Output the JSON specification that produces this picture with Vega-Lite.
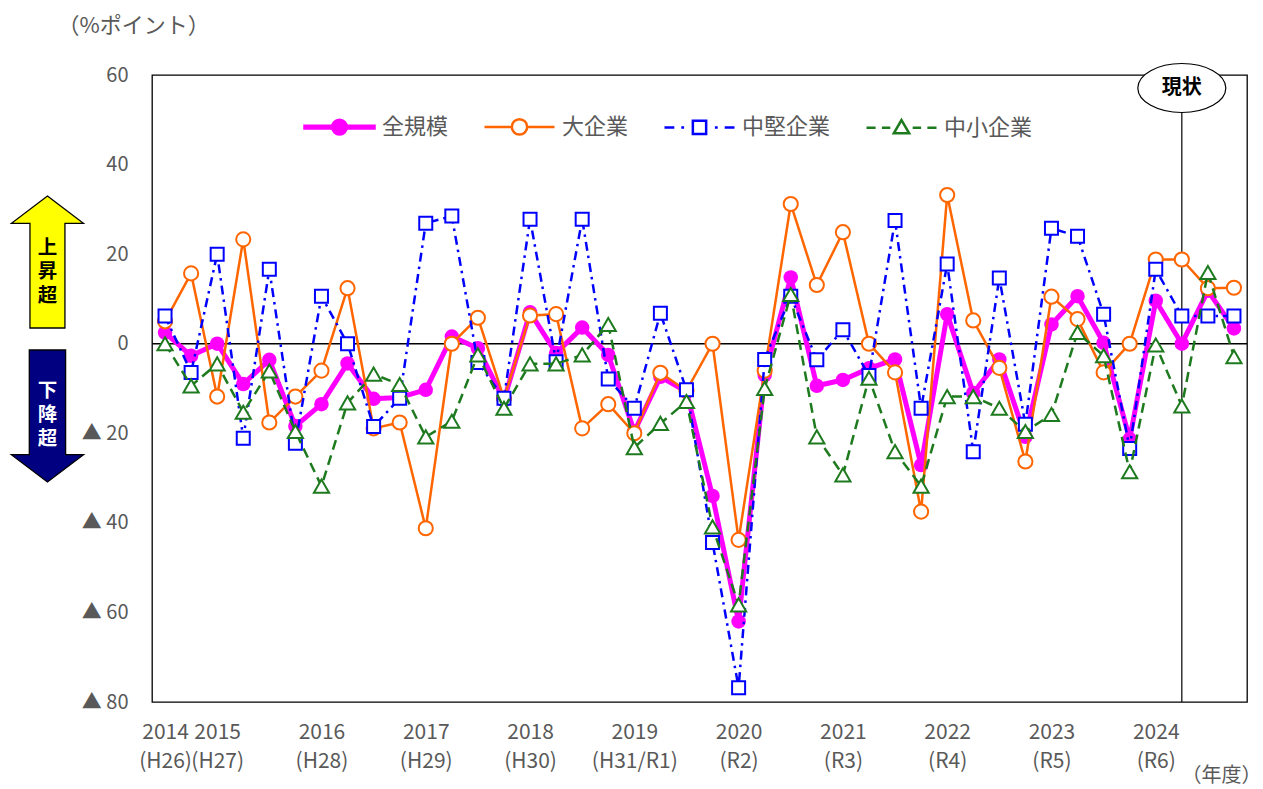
{
  "$schema": "https://vega.github.io/schema/vega-lite/v6.json",
  "width": 1095,
  "height": 627,
  "autosize": {"type": "none"},
  "padding": {"left": 152, "top": 75, "right": 16, "bottom": 87},
  "background": "white",
  "config": {
    "font": "Noto Sans CJK JP",
    "view": {"stroke": "#000000", "strokeWidth": 1.3},
    "axis": {"domain": false, "ticks": false, "tickSize": 0, "grid": false, "labelColor": "#595959", "labelFontSize": 20, "titleColor": "#595959", "titleFontWeight": "normal", "titleFontSize": 20, "labelFlush": false, "labelOverlap": false}
  },
  "data": {
    "values": [
      {"i": 0, "全規模": 2.5, "大企業": 5, "中堅企業": 6.2, "中小企業": 0},
      {"i": 1, "全規模": -2.7, "大企業": 15.7, "中堅企業": -6.4, "中小企業": -9.4},
      {"i": 2, "全規模": 0, "大企業": -11.8, "中堅企業": 20, "中小企業": -4.5},
      {"i": 3, "全規模": -9, "大企業": 23.3, "中堅企業": -21.1, "中小企業": -15.3},
      {"i": 4, "全規模": -3.6, "大企業": -17.6, "中堅企業": 16.6, "中小企業": -6.1},
      {"i": 5, "全規模": -18.4, "大企業": -11.8, "中堅企業": -22.2, "中小企業": -19.6},
      {"i": 6, "全規模": -13.5, "大企業": -6, "中堅企業": 10.6, "中小企業": -31.8},
      {"i": 7, "全規模": -4.4, "大企業": 12.4, "中堅企業": 0, "中小企業": -13.2},
      {"i": 8, "全規模": -12.3, "大企業": -18.9, "中堅企業": -18.5, "中小企業": -6.8},
      {"i": 9, "全規模": -12, "大企業": -17.6, "中堅企業": -12.2, "中小企業": -9.1},
      {"i": 10, "全規模": -10.3, "大企業": -41.2, "中堅企業": 26.9, "中小企業": -20.8},
      {"i": 11, "全規模": 1.6, "大企業": 0, "中堅企業": 28.5, "中小企業": -17.3},
      {"i": 12, "全規模": -1, "大企業": 5.8, "中堅企業": -4.2, "中小企業": -2.5},
      {"i": 13, "全規模": -12.6, "大企業": -12.2, "中堅企業": -12.2, "中小企業": -14.4},
      {"i": 14, "全規模": 7, "大企業": 6.3, "中堅企業": 27.8, "中小企業": -4.5},
      {"i": 15, "全規模": -2.1, "大企業": 6.6, "中堅企業": -4, "中小企業": -4.5},
      {"i": 16, "全規模": 3.6, "大企業": -18.9, "中堅企業": 27.8, "中小企業": -2.5},
      {"i": 17, "全規模": -2.5, "大企業": -13.5, "中堅企業": -7.9, "中小企業": 4.3},
      {"i": 18, "全規模": -19.6, "大企業": -20, "中堅企業": -14.4, "中小企業": -23.2},
      {"i": 19, "全規模": -7.4, "大企業": -6.5, "中堅企業": 6.8, "中小企業": -17.8},
      {"i": 20, "全規模": -10.7, "大企業": -10.5, "中堅企業": -10.3, "中小企業": -12.9},
      {"i": 21, "全規模": -34, "大企業": 0, "中堅企業": -44.4, "中小企業": -40.9},
      {"i": 22, "全規模": -62, "大企業": -43.8, "中堅企業": -76.8, "中小企業": -58.3},
      {"i": 23, "全規模": -7, "大企業": -6, "中堅企業": -3.5, "中小企業": -10},
      {"i": 24, "全規模": 14.8, "大企業": 31.2, "中堅企業": 10.6, "中小企業": 11},
      {"i": 25, "全規模": -9.4, "大企業": 13.1, "中堅企業": -3.6, "中小企業": -20.8},
      {"i": 26, "全規模": -8.1, "大企業": 24.9, "中堅企業": 3.1, "中小企業": -29.3},
      {"i": 27, "全規模": -5.5, "大企業": 0, "中堅企業": -7.1, "中小企業": -7.7},
      {"i": 28, "全規模": -3.5, "大企業": -6.4, "中堅企業": 27.5, "中小企業": -24.1},
      {"i": 29, "全規模": -27.1, "大企業": -37.5, "中堅企業": -14.4, "中小企業": -31.8},
      {"i": 30, "全規模": 6.6, "大企業": 33.2, "中堅企業": 17.8, "中小企業": -11.8},
      {"i": 31, "全規模": -11, "大企業": 5.2, "中堅企業": -24.1, "中小企業": -11.8},
      {"i": 32, "全規模": -3.5, "大企業": -5.4, "中堅企業": 14.7, "中小企業": -14.4},
      {"i": 33, "全規模": -20.8, "大企業": -26.3, "中堅企業": -18, "中小企業": -19.6},
      {"i": 34, "全規模": 4.3, "大企業": 10.5, "中堅企業": 25.8, "中小企業": -15.8},
      {"i": 35, "全規模": 10.6, "大企業": 5.5, "中堅企業": 24, "中小企業": 2.5},
      {"i": 36, "全規模": 0.2, "大企業": -6.4, "中堅企業": 6.6, "中小企業": -2.7},
      {"i": 37, "全規模": -21.3, "大企業": 0, "中堅企業": -23.4, "中小企業": -28.6},
      {"i": 38, "全規模": 9.6, "大企業": 18.8, "中堅企業": 16.6, "中小企業": -0.3},
      {"i": 39, "全規模": 0, "大企業": 18.8, "中堅企業": 6.2, "中小企業": -13.9},
      {"i": 40, "全規模": 11.8, "大企業": 12.4, "中堅企業": 6.2, "中小企業": 15.9},
      {"i": 41, "全規模": 3.4, "大企業": 12.5, "中堅企業": 6.2, "中小企業": -2.9}
    ]
  },
  "layer": [
    {
      "data": {"values": [{}]},
      "mark": {"type": "rule", "color": "#000000", "strokeWidth": 1.5},
      "encoding": {"y": {"datum": 0, "type": "quantitative"}}
    },
    {
      "data": {"values": [{}]},
      "mark": {"type": "rule", "color": "#000000", "strokeWidth": 1.2},
      "encoding": {"x": {"datum": 39, "type": "quantitative"}}
    },
    {
      "transform": [{"fold": ["全規模", "大企業", "中堅企業", "中小企業"], "as": ["series", "value"]}],
      "layer": [
        {
          "transform": [{"filter": "datum.series === '全規模'"}],
          "mark": {"type": "line", "color": "#FF00FF", "strokeWidth": 5, "strokeJoin": "round"},
          "encoding": {
            "x": {
              "field": "i", "type": "quantitative",
              "scale": {"domain": [-0.5, 41.5], "nice": false, "zero": false},
              "axis": {
                "values": [0, 2, 6, 10, 14, 18, 22, 26, 30, 34, 38],
                "labelExpr": "datum.value==0?['2014','(H26)']:datum.value==2?['2015','(H27)']:datum.value==6?['2016','(H28)']:datum.value==10?['2017','(H29)']:datum.value==14?['2018','(H30)']:datum.value==18?['2019','(H31/R1)']:datum.value==22?['2020','(R2)']:datum.value==26?['2021','(R3)']:datum.value==30?['2022','(R4)']:datum.value==34?['2023','(R5)']:['2024','(R6)']",
                "labelFontSize": 21,
                "labelLineHeight": 29,
                "labelPadding": 19,
                "labelAlign": "center",
                "title": "（年度）",
                "titleX": 1029,
                "titleY": 73,
                "titleAlign": "left",
                "titleBaseline": "middle",
                "titleFontSize": 20
              }
            },
            "y": {
              "field": "value", "type": "quantitative",
              "scale": {"domain": [-80, 60], "nice": false, "zero": false},
              "axis": {
                "values": [-80, -60, -40, -20, 0, 20, 40, 60],
                "labelExpr": "datum.value < 0 ? '▲ ' + (-datum.value) : '' + datum.value",
                "labelPadding": 24,
                "title": "（%ポイント）",
                "titleAngle": 0,
                "titleX": -95,
                "titleY": -50,
                "titleAlign": "left",
                "titleBaseline": "middle",
                "titleFontSize": 22
              }
            }
          }
        },
        {
          "transform": [{"filter": "datum.series === '全規模'"}],
          "mark": {"type": "point", "shape": "circle", "filled": true, "fill": "#FF00FF", "strokeWidth": 0, "size": 210, "opacity": 1},
          "encoding": {
            "x": {"field": "i", "type": "quantitative"},
            "y": {"field": "value", "type": "quantitative"}
          }
        },
        {
          "transform": [{"filter": "datum.series === '大企業'"}],
          "mark": {"type": "line", "color": "#FF6600", "strokeWidth": 2.5, "strokeJoin": "round"},
          "encoding": {
            "x": {"field": "i", "type": "quantitative"},
            "y": {"field": "value", "type": "quantitative"}
          }
        },
        {
          "transform": [{"filter": "datum.series === '大企業'"}],
          "mark": {"type": "point", "shape": "circle", "filled": true, "fill": "#FFFFFF", "stroke": "#FF6600", "strokeWidth": 2, "size": 200, "opacity": 1},
          "encoding": {
            "x": {"field": "i", "type": "quantitative"},
            "y": {"field": "value", "type": "quantitative"}
          }
        },
        {
          "transform": [{"filter": "datum.series === '中堅企業'"}],
          "mark": {"type": "line", "color": "#0000FF", "strokeWidth": 2.5, "strokeDash": [9, 5, 2.5, 5]},
          "encoding": {
            "x": {"field": "i", "type": "quantitative"},
            "y": {"field": "value", "type": "quantitative"}
          }
        },
        {
          "transform": [{"filter": "datum.series === '中堅企業'"}],
          "mark": {"type": "point", "shape": "square", "filled": true, "fill": "#FFFFFF", "stroke": "#0000FF", "strokeWidth": 2, "size": 169, "opacity": 1},
          "encoding": {
            "x": {"field": "i", "type": "quantitative"},
            "y": {"field": "value", "type": "quantitative"}
          }
        },
        {
          "transform": [{"filter": "datum.series === '中小企業'"}],
          "mark": {"type": "line", "color": "#1E7A1E", "strokeWidth": 2.5, "strokeDash": [10, 6]},
          "encoding": {
            "x": {"field": "i", "type": "quantitative"},
            "y": {"field": "value", "type": "quantitative"}
          }
        },
        {
          "transform": [{"filter": "datum.series === '中小企業'"}],
          "mark": {"type": "point", "shape": "triangle-up", "filled": true, "fill": "#FFFFFF", "stroke": "#1E7A1E", "strokeWidth": 2, "size": 230, "opacity": 1},
          "encoding": {
            "x": {"field": "i", "type": "quantitative"},
            "y": {"field": "value", "type": "quantitative"}
          }
        },
        {
          "mark": {"type": "point", "opacity": 0, "size": 4900, "strokeWidth": 2.5},
          "encoding": {
            "x": {"field": "i", "type": "quantitative"},
            "y": {"field": "value", "type": "quantitative"},
            "shape": {
              "field": "series", "type": "nominal",
              "scale": {
                "domain": ["全規模", "大企業", "中堅企業", "中小企業"],
                "range": [
                  "M-1,-0.04 L1,-0.04 L1,0.04 L-1,0.04 Z M0.21,0 A0.21,0.21 0 1,1 -0.21,0 A0.21,0.21 0 1,1 0.21,0 Z",
                  "M-1,0 L-0.22,0 M0.22,0 L1,0 M0.22,0 A0.22,0.22 0 1,1 -0.22,0 A0.22,0.22 0 1,1 0.22,0 Z",
                  "M-1,0 L-0.72,0 M-0.52,0 L-0.44,0 M0.44,0 L0.52,0 M0.72,0 L1,0 M-0.19,-0.19 L0.19,-0.19 L0.19,0.19 L-0.19,0.19 Z",
                  "M-1,0 L-0.74,0 M-0.56,0 L-0.32,0 M0.32,0 L0.56,0 M0.74,0 L1,0 M0,-0.22 L0.22,0.16 L-0.22,0.16 Z"
                ]
              },
              "legend": {"orient": "none", "legendX": 151, "legendY": 15, "direction": "horizontal", "columns": 4, "title": null, "labelFontSize": 22, "labelColor": "#595959", "labelOffset": 6, "columnPadding": 30, "symbolSize": 4900, "symbolStrokeWidth": 2.5, "symbolOpacity": 1, "padding": 0}
            },
            "fill": {
              "field": "series", "type": "nominal",
              "scale": {"domain": ["全規模", "大企業", "中堅企業", "中小企業"], "range": ["#FF00FF", "#FFFFFF", "#FFFFFF", "#FFFFFF"]},
              "legend": {"orient": "none", "legendX": 151, "legendY": 15, "direction": "horizontal", "columns": 4, "title": null, "labelFontSize": 22, "labelColor": "#595959", "labelOffset": 6, "columnPadding": 30, "symbolSize": 4900, "symbolStrokeWidth": 2.5, "symbolOpacity": 1, "padding": 0}
            },
            "stroke": {
              "field": "series", "type": "nominal",
              "scale": {"domain": ["全規模", "大企業", "中堅企業", "中小企業"], "range": ["#FF00FF", "#FF6600", "#0000FF", "#1E7A1E"]},
              "legend": {"orient": "none", "legendX": 151, "legendY": 15, "direction": "horizontal", "columns": 4, "title": null, "labelFontSize": 22, "labelColor": "#595959", "labelOffset": 6, "columnPadding": 30, "symbolSize": 4900, "symbolStrokeWidth": 2.5, "symbolOpacity": 1, "padding": 0}
            }
          }
        }
      ]
    },
    {
      "data": {"values": [{}]},
      "layer": [
        {
          "mark": {"type": "point", "shape": "M0,-1 L0.545,-0.586 L0.265,-0.586 L0.265,1 L-0.265,1 L-0.265,-0.586 L-0.545,-0.586 Z", "size": 17424, "filled": true, "fill": "#FFFF00", "stroke": "#000000", "strokeWidth": 1.3, "opacity": 1},
          "encoding": {"x": {"datum": -4.51, "type": "quantitative"}, "y": {"datum": 18.25, "type": "quantitative"}}
        },
        {
          "mark": {"type": "point", "shape": "M-0.275,-1 L0.275,-1 L0.275,0.586 L0.547,0.586 L0,1 L-0.547,0.586 L-0.275,0.586 Z", "size": 17424, "filled": true, "fill": "#000080", "stroke": "#000000", "strokeWidth": 1.3, "opacity": 1},
          "encoding": {"x": {"datum": -4.51, "type": "quantitative"}, "y": {"datum": -16.14, "type": "quantitative"}}
        },
        {
          "mark": {"type": "text", "text": ["上", "昇", "超"], "fontSize": 19.5, "fontWeight": "bold", "color": "#000000", "lineHeight": 24, "align": "center", "baseline": "middle"},
          "encoding": {"x": {"datum": -4.51, "type": "quantitative"}, "y": {"datum": 21.37, "type": "quantitative"}}
        },
        {
          "mark": {"type": "text", "text": ["下", "降", "超"], "fontSize": 19.5, "fontWeight": "bold", "color": "#FFFFFF", "lineHeight": 24, "align": "center", "baseline": "middle"},
          "encoding": {"x": {"datum": -4.51, "type": "quantitative"}, "y": {"datum": -10.56, "type": "quantitative"}}
        },
        {
          "mark": {"type": "point", "shape": "M-1,0 A1,0.557 0 1,1 1,0 A1,0.557 0 1,1 -1,0 Z", "size": 7744, "filled": true, "fill": "#FFFFFF", "stroke": "#000000", "strokeWidth": 1.2, "opacity": 1},
          "encoding": {"x": {"datum": 39, "type": "quantitative"}, "y": {"datum": 57.1, "type": "quantitative"}}
        },
        {
          "mark": {"type": "text", "text": "現状", "fontSize": 20, "fontWeight": "bold", "color": "#000000", "align": "center", "baseline": "middle"},
          "encoding": {"x": {"datum": 39, "type": "quantitative"}, "y": {"datum": 57.1, "type": "quantitative"}}
        }
      ]
    }
  ]
}
